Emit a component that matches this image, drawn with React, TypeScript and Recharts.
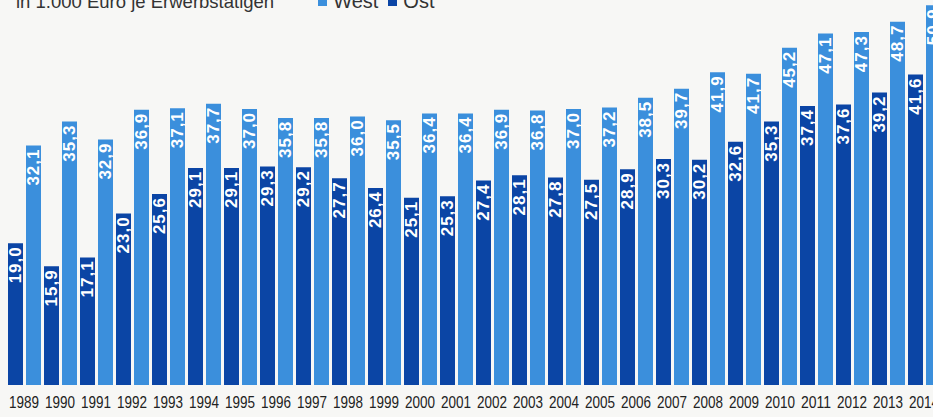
import { BarChart, Bar, XAxis, YAxis, LabelList } from "recharts";

const YEARS = [
  "1989", "1990", "1991", "1992", "1993", "1994", "1995", "1996", "1997",
  "1998", "1999", "2000", "2001", "2002", "2003", "2004", "2005", "2006",
  "2007", "2008", "2009", "2010", "2011", "2012", "2013", "2014",
];

const WEST = [
  32.1, 35.3, 32.9, 36.9, 37.1, 37.7, 37.0, 35.8, 35.8, 36.0, 35.5, 36.4, 36.4,
  36.9, 36.8, 37.0, 37.2, 38.5, 39.7, 41.9, 41.7, 45.2, 47.1, 47.3, 48.7, 50.9,
];

const OST = [
  19.0, 15.9, 17.1, 23.0, 25.6, 29.1, 29.1, 29.3, 29.2, 27.7, 26.4, 25.1, 25.3,
  27.4, 28.1, 27.8, 27.5, 28.9, 30.3, 30.2, 32.6, 35.3, 37.4, 37.6, 39.2, 41.6,
];

const WEST_COLOR = "#3b8fdc";
const OST_COLOR = "#0b45a5";
const FONT = "'Liberation Sans', Arial, sans-serif";

const data = YEARS.map((year, i) => ({ year, west: WEST[i], ost: OST[i] }));

function BarValue(props: any) {
  const { x, y, width, value } = props;
  const cx = x + width / 2;
  const ty = y + 3;
  return (
    <text
      x={cx}
      y={ty}
      transform={`rotate(-90, ${cx}, ${ty})`}
      textAnchor="end"
      dominantBaseline="central"
      fill="#ffffff"
      fontSize={17}
      fontWeight="bold"
      letterSpacing={1}
      fontFamily={FONT}
    >
      {value.toFixed(1).replace(".", ",")}
    </text>
  );
}

// narrow year labels, squeezed like the condensed face of the original
function YearTick(props: any) {
  const { x, y, payload } = props;
  return (
    <text
      x={x}
      y={y + 15}
      textAnchor="middle"
      fill="#222"
      fontSize={16.5}
      fontFamily={FONT}
      textLength={30}
      lengthAdjust="spacingAndGlyphs"
    >
      {payload.value}
    </text>
  );
}

function LegendItem({ color, label }: { color: string; label: string }) {
  return (
    <span style={{ display: "inline-flex", alignItems: "center", marginRight: 10 }}>
      <span style={{ width: 9, height: 9, background: color, marginRight: 6 }} />
      {label}
    </span>
  );
}

export default function App() {
  return (
    <div
      style={{
        position: "absolute",
        left: 0,
        top: 0,
        width: 933,
        height: 417,
        overflow: "hidden",
        background: "#f7f7f5",
      }}
    >
      <div
        style={{
          position: "absolute",
          left: 16,
          top: -10,
          fontSize: 18.5,
          color: "#333",
          fontFamily: FONT,
          whiteSpace: "nowrap",
          display: "flex",
          alignItems: "center",
        }}
      >
        <span style={{ marginRight: 44 }}>in 1.000 Euro je Erwerbstätigen</span>
        <span style={{ fontSize: 20, display: "inline-flex", alignItems: "center" }}>
          <LegendItem color={WEST_COLOR} label="West" />
          <LegendItem color={OST_COLOR} label="Ost" />
        </span>
      </div>
      <BarChart
        width={942}
        height={417}
        data={data}
        margin={{ top: 0, right: 0, left: 6, bottom: 0 }}
        barSize={15}
        barGap={3}
        barCategoryGap={1.5}
      >
        <XAxis
          dataKey="year"
          axisLine={false}
          tickLine={false}
          interval={0}
          height={32}
          tick={<YearTick />}
        />
        <YAxis hide domain={[0, 51.6]} allowDataOverflow />
        <Bar dataKey="ost" fill={OST_COLOR} isAnimationActive={false}>
          <LabelList dataKey="ost" content={<BarValue />} />
        </Bar>
        <Bar dataKey="west" fill={WEST_COLOR} isAnimationActive={false}>
          <LabelList dataKey="west" content={<BarValue />} />
        </Bar>
      </BarChart>
    </div>
  );
}
